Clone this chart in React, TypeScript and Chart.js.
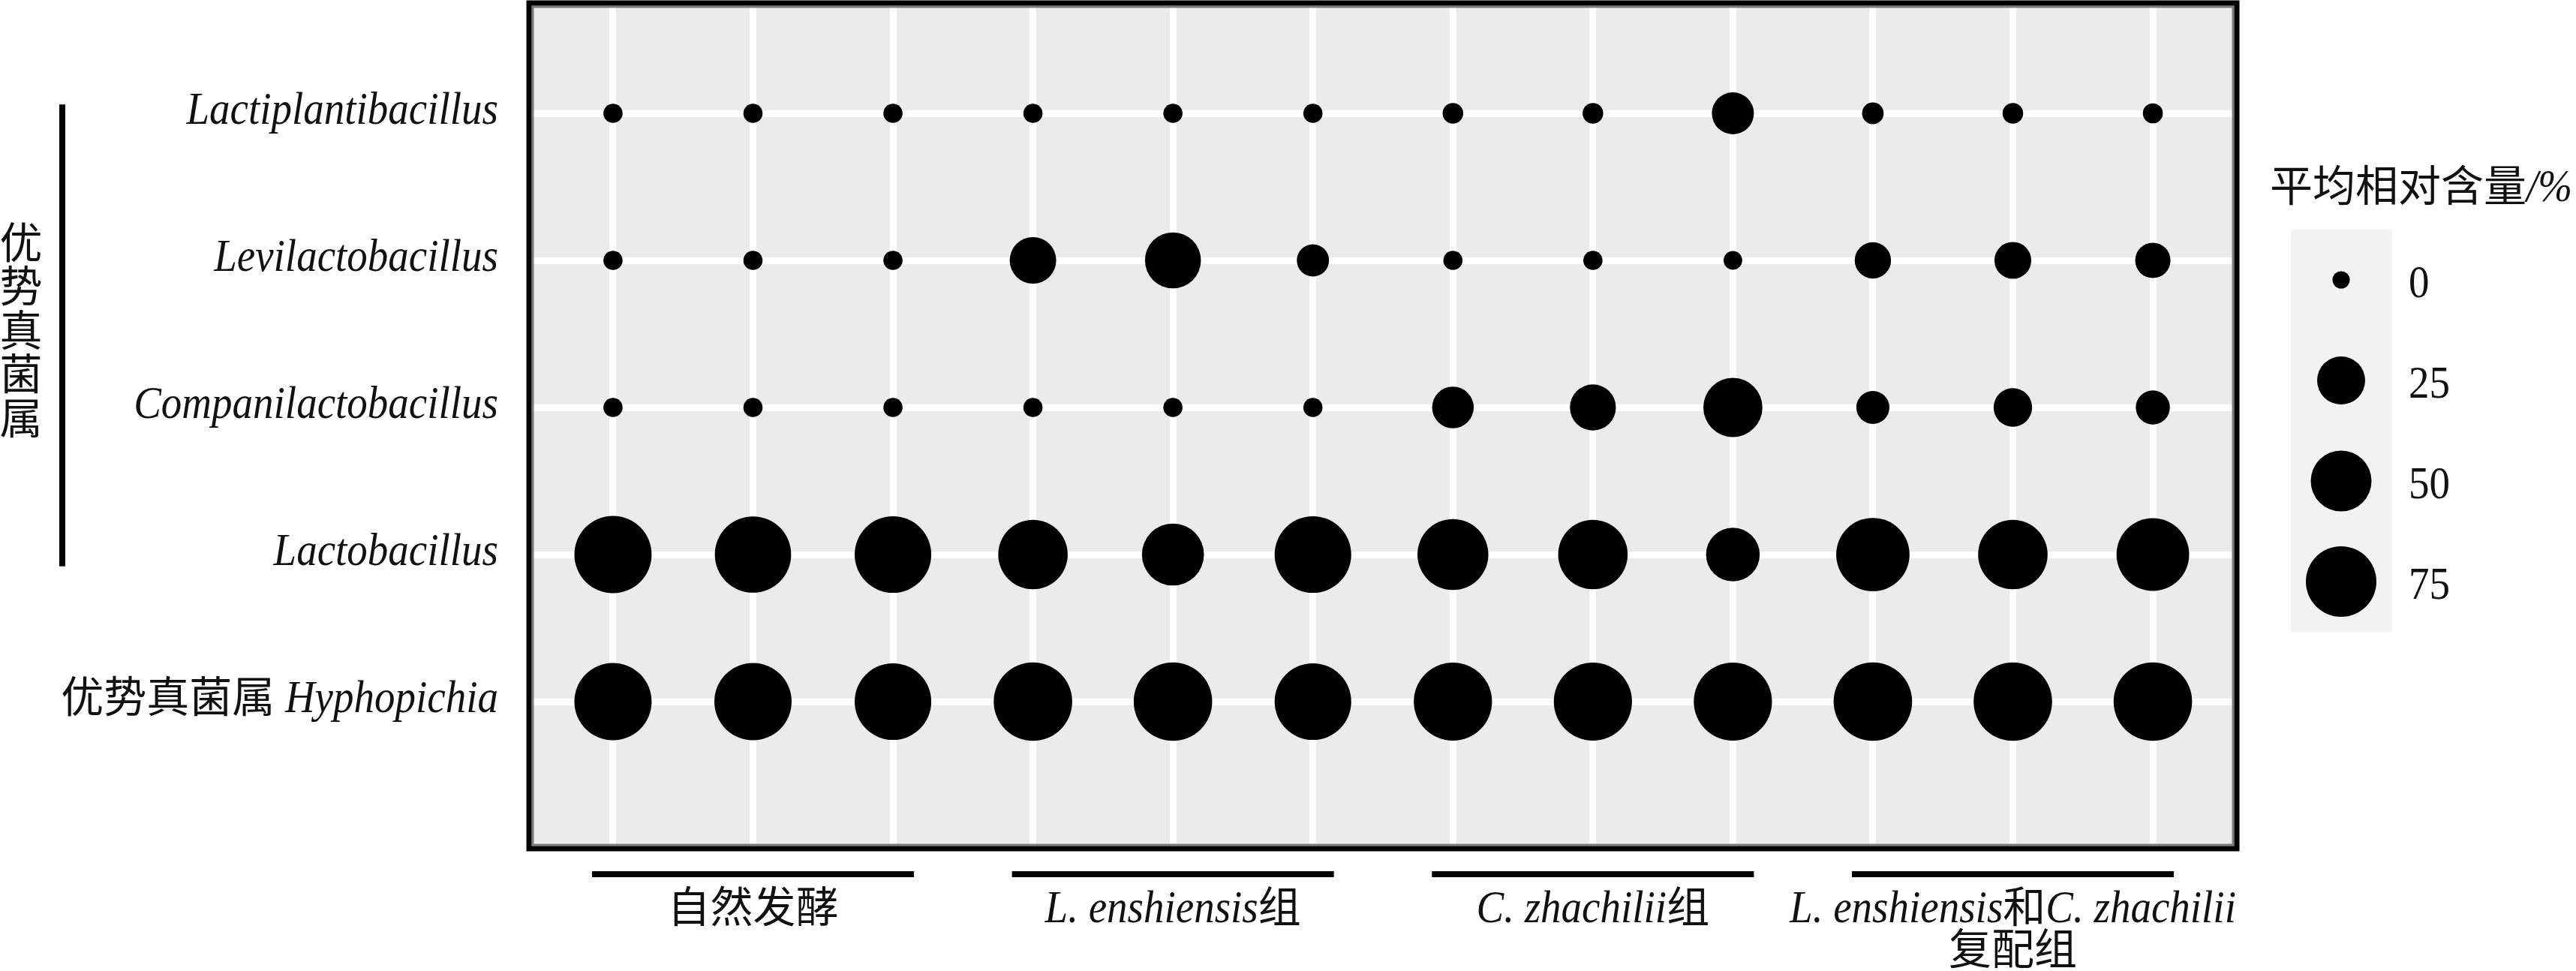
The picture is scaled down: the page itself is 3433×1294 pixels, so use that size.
import React, { useEffect, useRef } from 'react';
import { Chart, registerables } from 'chart.js';

Chart.register(...registerables);

// Rows, bottom (y = 0) to top (y = 4)
const genera = [
  '优势真菌属 Hyphopichia',
  'Lactobacillus',
  'Companilactobacillus',
  'Levilactobacillus',
  'Lactiplantibacillus',
];

// Groups of three samples each (12 columns)
const groups = [
  '自然发酵',
  'L. enshiensis组',
  'C. zhachilii组',
  'L. enshiensis和C. zhachilii\n复配组',
];
const samplesPerGroup = 3;

// Mean relative abundance (%) per sample column
const hyphopichia = [95, 95, 93, 99, 99, 93, 98, 98, 98, 99, 99, 99];
const lactobacillus = [95, 92, 93, 72, 53, 93, 76, 72, 35, 83, 72, 81];
const companilactobacillus = [0.1, 0.1, 0.1, 0.1, 0.1, 0.1, 15.7, 21.8, 46.3, 6.6, 11.9, 7.5];
const levilactobacillus = [0.1, 0.1, 0.1, 22.6, 39.6, 5.9, 0.1, 0.1, 0.05, 9.6, 10.1, 8.6];
const lactiplantibacillus = [0.1, 0.1, 0.1, 0.1, 0.1, 0.1, 0.3, 0.3, 16.2, 0.5, 0.3, 0.2];

const seriesByRow = [hyphopichia, lactobacillus, companilactobacillus, levilactobacillus, lactiplantibacillus];

const legendBreaks = [0, 25, 50, 75];
const legendTitle = '平均相对含量/%';
const yAxisTitle = '优势真菌属';

const LATIN = '"Liberation Serif", "Times New Roman", serif';
const CJK = '"Noto Sans CJK SC", "Noto Sans CJK JP", sans-serif';
const LAT_SIZE = 55;
const CJK_SIZE = 57;
const LAT_STRETCH = 1.1;

const radiusFor = (v: number) => 11.5 + 4.1 * Math.sqrt(Math.max(0, v));

type Run = { t: string; cjk: boolean };
function splitRuns(s: string): Run[] {
  const m = s.match(/[\u3000-\u9fff\uff00-\uffef]+|[^\u3000-\u9fff\uff00-\uffef]+/g) || [];
  return m.map((t) => ({ t, cjk: /[\u3000-\u9fff\uff00-\uffef]/.test(t) }));
}
function runFont(r: Run, italic: boolean) {
  return r.cjk ? `${CJK_SIZE}px ${CJK}` : `${italic ? 'italic ' : ''}${LAT_SIZE}px ${LATIN}`;
}
function fillRun(ctx: CanvasRenderingContext2D, r: Run, x: number, y: number) {
  if (r.cjk) {
    ctx.fillText(r.t, x, y);
  } else {
    ctx.save();
    ctx.translate(x, y);
    ctx.scale(1, LAT_STRETCH);
    ctx.fillText(r.t, 0, 0);
    ctx.restore();
  }
}
function drawMixed(
  ctx: CanvasRenderingContext2D,
  s: string,
  x: number,
  y: number,
  align: 'left' | 'right' | 'center',
  italic = true
) {
  const runs = splitRuns(s);
  const widths = runs.map((r) => {
    ctx.font = runFont(r, italic);
    return ctx.measureText(r.t).width;
  });
  const total = widths.reduce((a, b) => a + b, 0);
  let cx = align === 'left' ? x : align === 'right' ? x - total : x - total / 2;
  ctx.textAlign = 'left';
  ctx.textBaseline = 'alphabetic';
  runs.forEach((r, i) => {
    ctx.font = runFont(r, italic);
    fillRun(ctx, r, cx, y);
    cx += widths[i];
  });
}

const decorPlugin = {
  id: 'decor',
  beforeDraw(chart: any) {
    const { ctx, chartArea: a } = chart;
    ctx.save();
    ctx.fillStyle = '#EBEBEB';
    ctx.fillRect(a.left, a.top, a.right - a.left, a.bottom - a.top);
    ctx.restore();
  },
  afterDraw(chart: any) {
    const { ctx, chartArea: a } = chart;
    const xs = chart.scales.x;
    const ys = chart.scales.y;
    ctx.save();

    // panel border
    ctx.strokeStyle = '#7a7a7a';
    ctx.lineWidth = 3;
    ctx.strokeRect(a.left + 5, a.top + 5, a.right - a.left - 10, a.bottom - a.top - 10);
    ctx.strokeStyle = '#000';
    ctx.lineWidth = 7;
    ctx.strokeRect(a.left, a.top, a.right - a.left, a.bottom - a.top);

    ctx.fillStyle = '#111';
    // y labels
    genera.forEach((g, i) => {
      drawMixed(ctx, g, a.left - 41, ys.getPixelForValue(i) + 14, 'right');
    });

    // left bracket bar
    const barTop = ys.getPixelForValue(4.06);
    const barBot = ys.getPixelForValue(0.92);
    ctx.fillStyle = '#000';
    ctx.fillRect(79, barTop, 8, barBot - barTop);

    // vertical title
    ctx.fillStyle = '#111';
    ctx.font = `${CJK_SIZE}px ${CJK}`;
    ctx.textAlign = 'center';
    ctx.textBaseline = 'middle';
    const chars = Array.from(yAxisTitle);
    const step = 58.5;
    const mid = (barTop + barBot) / 2 - 8;
    chars.forEach((c, k) => {
      ctx.fillText(c, 28, mid + (k - (chars.length - 1) / 2) * step);
    });

    // group lines and labels
    groups.forEach((g, gi) => {
      const first = gi * samplesPerGroup;
      const last = first + samplesPerGroup - 1;
      const x0 = xs.getPixelForValue(first - 0.15);
      const x1 = xs.getPixelForValue(last + 0.15);
      ctx.fillStyle = '#000';
      ctx.fillRect(x0, a.bottom + 30, x1 - x0, 8);
      const cx = xs.getPixelForValue(first + (samplesPerGroup - 1) / 2);
      ctx.fillStyle = '#111';
      g.split('\n').forEach((line, li) => {
        drawMixed(ctx, line, cx, a.bottom + 98 + li * 56, 'center');
      });
    });

    // size legend
    const lx = a.right;
    ctx.fillStyle = '#111';
    drawMixed(ctx, legendTitle, lx + 44, 268, 'left');
    ctx.fillStyle = '#F2F2F2';
    ctx.fillRect(lx + 72, 306, 135, 536);
    legendBreaks.forEach((b, k) => {
      const cy = 373 + k * 134;
      ctx.fillStyle = '#000';
      ctx.beginPath();
      ctx.arc(lx + 139, cy, radiusFor(b), 0, Math.PI * 2);
      ctx.fill();
      ctx.fillStyle = '#111';
      ctx.font = `${LAT_SIZE}px ${LATIN}`;
      ctx.textAlign = 'left';
      ctx.textBaseline = 'alphabetic';
      fillRun(ctx, { t: String(b), cjk: false }, lx + 229, cy + 23);
    });

    ctx.restore();
  },
};

export default function App() {
  const ref = useRef<HTMLCanvasElement | null>(null);

  useEffect(() => {
    if (!ref.current) return;
    const points: { x: number; y: number; v: number }[] = [];
    seriesByRow.forEach((row, yi) => {
      row.forEach((v, xi) => points.push({ x: xi, y: yi, v }));
    });
    const nCols = hyphopichia.length;

    const chart = new Chart(ref.current, {
      type: 'scatter',
      data: {
        datasets: [
          {
            data: points as any,
            backgroundColor: '#000',
            borderWidth: 0,
            pointRadius: (c: any) => radiusFor(c.raw ? c.raw.v : 0),
            pointHoverRadius: (c: any) => radiusFor(c.raw ? c.raw.v : 0),
          } as any,
        ],
      },
      options: {
        animation: false,
        responsive: false,
        maintainAspectRatio: false,
        devicePixelRatio: 1,
        events: [],
        layout: { autoPadding: false, padding: { left: 705, right: 452, top: 4, bottom: 163 } } as any,
        plugins: { legend: { display: false }, tooltip: { enabled: false }, title: { display: false } },
        scales: {
          x: {
            type: 'linear',
            min: -0.6,
            max: nCols - 1 + 0.6,
            afterBuildTicks: (s: any) => {
              s.ticks = Array.from({ length: nCols }, (_, i) => ({ value: i }));
            },
            ticks: { display: false },
            grid: { color: '#FFFFFF', lineWidth: 9, drawTicks: false },
            border: { display: false },
          },
          y: {
            type: 'linear',
            min: -1,
            max: 4.75,
            afterBuildTicks: (s: any) => {
              s.ticks = genera.map((_, i) => ({ value: i }));
            },
            ticks: { display: false },
            grid: { color: '#FFFFFF', lineWidth: 9, drawTicks: false },
            border: { display: false },
          },
        },
      },
      plugins: [decorPlugin],
    });
    return () => chart.destroy();
  }, []);

  return (
    <div style={{ position: 'absolute', left: 0, top: 0, width: 3433, height: 1294, background: '#fff' }}>
      <canvas ref={ref} width={3433} height={1294} style={{ display: 'block', width: 3433, height: 1294 }} />
    </div>
  );
}
